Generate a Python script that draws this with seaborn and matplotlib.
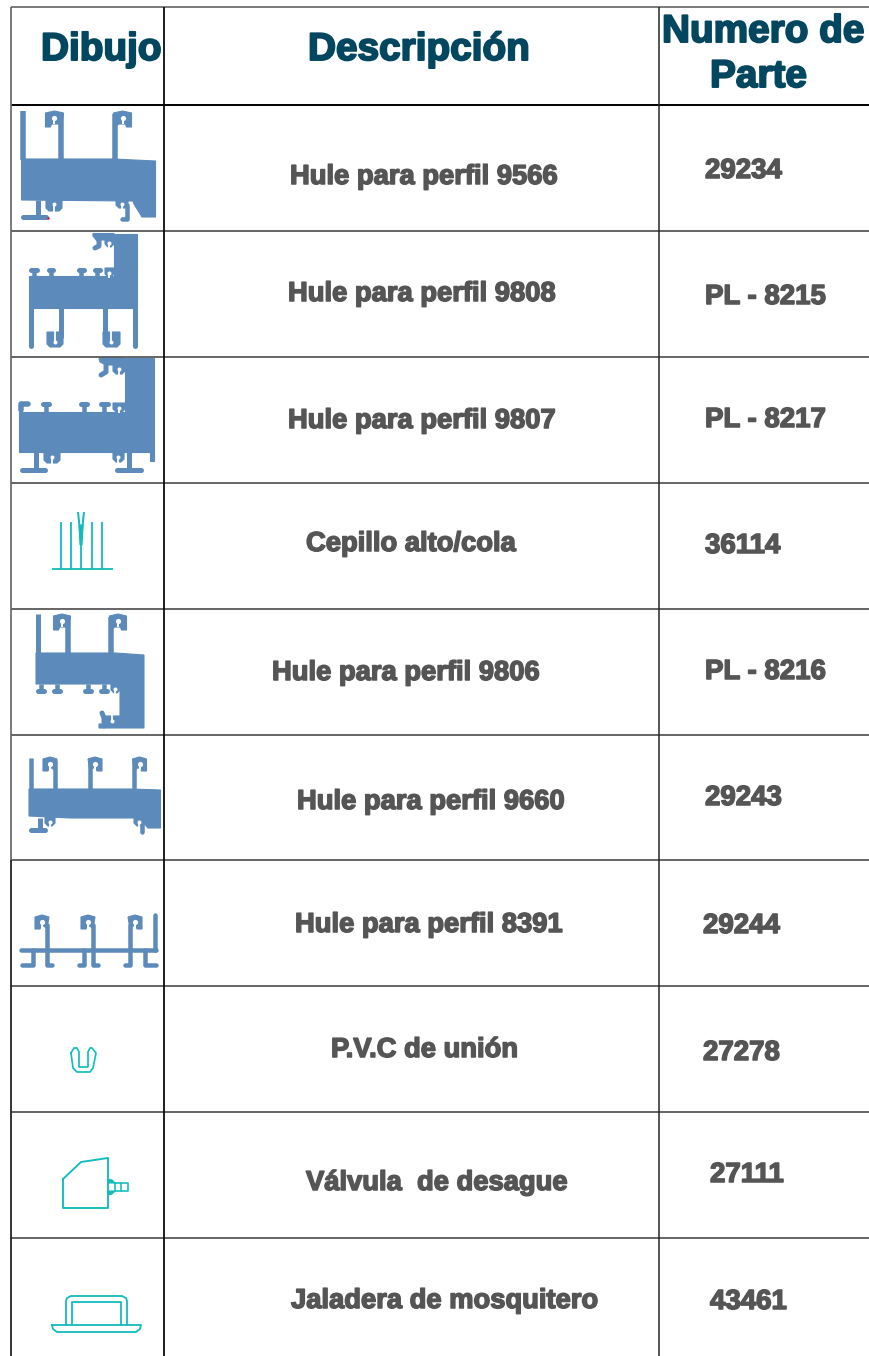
import matplotlib
matplotlib.use('Agg')
import matplotlib.pyplot as plt
import matplotlib.patheffects as pe
import seaborn as sns

headers = ['Dibujo', 'Descripción', 'Numero de', 'Parte']
descriptions = ['Hule para perfil 9566', 'Hule para perfil 9808', 'Hule para perfil 9807',
                'Cepillo alto/cola', 'Hule para perfil 9806', 'Hule para perfil 9660',
                'Hule para perfil 8391', 'P.V.C de unión', 'Válvula  de desague',
                'Jaladera de mosquitero']
part_numbers = ['29234', 'PL - 8215', 'PL - 8217', '36114', 'PL - 8216', '29243',
                '29244', '27278', '27111', '43461']

# layout, in pixels of the 870x1356 picture
header_pos = [(41, 60), (308, 60), (662, 42), (710, 87)]
desc_pos = [(290, 184), (288, 301), (288, 428), (306, 551), (272, 680),
            (297, 809), (295, 932), (331, 1057), (306, 1190), (291, 1308)]
part_pos = [(705, 178), (705, 304), (705, 427), (705, 553), (705, 679),
            (705, 805), (703, 933), (703, 1060), (710, 1182), (710, 1309)]
row_edges = [105, 231, 357, 483, 609, 735, 860, 986, 1112, 1238]

BLUE = '#5c8aba'
CYAN = '#12bcbc'
NAVY = '#02465f'
GREY = '#555555'

sns.set_theme(style='white')
plt.rcParams['font.family'] = ['Liberation Sans', 'DejaVu Sans']

fig = plt.figure(figsize=(8.7, 13.56), dpi=100)
ax = fig.add_axes([0, 0, 1, 1])


def line(pts, color=BLUE, w=4.0, cap='round', z=3):
    xs = [p[0] for p in pts]
    ys = [p[1] for p in pts]
    sns.lineplot(x=xs, y=ys, sort=False, estimator=None, color=color, linewidth=w * 0.72,
                 solid_capstyle=cap, solid_joinstyle='round', ax=ax, legend=False, zorder=z)


def poly(pts, color=BLUE, z=2):
    ax.fill([p[0] for p in pts], [p[1] for p in pts], color=color, lw=0.8, zorder=z)


def dot(x, y, r=2.2, color='white'):
    ax.scatter([x], [y], s=(2 * r * 0.72) ** 2, color=color, linewidths=0, zorder=5)


def hook(x, top, d, w=15, h=15, lw=5.5, length=None):
    # stem with a head that hangs to one side
    if length is not None:
        line([(x, top + 2), (x, top + length)], w=lw, cap='butt')
    tip = x + d * w
    poly([(x + d * -2, top + 1), (x + d * w * 0.5, top - 1), (tip + d * 2, top + 1), (tip + d * 2, top + h),
          (tip - d * 3, top + h), (tip - d * 4, top + h - 3), (x + d * 3, top + h - 3), (x, top + h)])
    mid = x + d * w * 0.52
    dot(mid, top + 6, 2.6)
    line([(mid, top + 6), (mid, top + 12)], color='white', w=2, cap='butt', z=5)


def knob(x0, x1, y0, y1):
    # small T on a profile edge
    mid = (x0 + x1) / 2
    line([(x0 + 2, y1), (x1 - 2, y1)], w=5)
    line([(mid, y0), (mid, y1)], w=4.5, cap='butt')


def clip(x0, x1, y0, y1, up=False):
    poly([(x0, y0), (x1, y0), (x1, y1 - 3), (x1 - 3, y1), (x0 + 3, y1), (x0, y1 - 3)])
    mid = (x0 + x1) / 2
    if up:
        dot(mid, y1 - 5, 2)
        line([(mid, y1 - 5), (mid, y0 - 1)], color='white', w=1.8, cap='butt', z=5)
    else:
        dot(mid, y0 + 5, 2)
        line([(mid, y0 + 5), (mid, y1 + 1)], color='white', w=1.8, cap='butt', z=5)


def tee(x, y0, y1, x0, x1):
    line([(x, y0), (x, y1)], w=5, cap='butt')
    line([(x0 + 2, y1 + 1), (x1 - 2, y1 + 1)], w=5)


# table rules
line([(11.5, 7), (870, 7)], color='#666666', w=1.7, cap='butt')
line([(11.5, 105), (870, 105)], color='#050505', w=2.0, cap='butt')
for y in row_edges[1:]:
    line([(11.5, y), (870, y)], color='#4f4f4f', w=1.7, cap='butt')
line([(11.5, 7), (11.5, 860)], color='#666666', w=1.7, cap='butt')
line([(11.5, 860), (11.5, 1356)], color='#1a1a1a', w=1.7, cap='butt')
line([(163.7, 7), (163.7, 1356)], color='#0a0a0a', w=1.8, cap='butt')
line([(659, 7), (659, 1356)], color='#222222', w=1.5, cap='butt')

# 9566
poly([(21.5, 159), (113, 159), (155.5, 161), (155.5, 217), (142, 217), (134, 204), (133, 201), (21.5, 200)])
line([(23.5, 111), (23.5, 160)], w=5.5, cap='butt')
hook(61.5, 112, -1, w=14, length=48)
hook(115.5, 112, 1, w=14, length=48)
tee(38, 200, 216, 21, 48)
clip(46, 62, 199, 211, up=False)
clip(116, 128, 199, 208)
line([(127, 205), (127, 219), (122, 219)], w=4.5)
dot(48, 218, 1.2, 'red')

# 9808
poly([(29, 276), (114, 276), (114, 233.5), (137.5, 233.5), (137.5, 308), (29, 308)])
line([(31.5, 306), (31.5, 346)], w=5)
line([(135, 306), (135, 346)], w=5)
line([(61, 306), (61, 338)], w=5, cap='butt')
line([(105.5, 306), (105.5, 338)], w=5, cap='butt')
clip(47, 63, 332, 347, up=True)
clip(103, 120, 332, 347, up=True)
knob(29, 39, 277, 270)
knob(47, 55, 277, 270)
knob(77, 86, 277, 270)
knob(93, 102, 277, 270)
clip(105, 114, 268, 277)
clip(105, 114, 238, 247)
poly([(93, 233.5), (114, 233.5), (114, 240), (100, 240), (97, 241), (93, 236)])
line([(99, 238), (99, 246), (95, 248)], w=5)

# 9807
poly([(19, 412), (125, 412), (125, 358), (154.5, 358), (154.5, 461), (150, 461), (150, 452), (19, 452)])
line([(21.5, 410), (21.5, 404), (28, 404)], w=5.5)
knob(41, 51, 412, 404)
knob(79, 89, 412, 404)
knob(99, 110, 412, 404)
clip(113, 125, 403, 412)
clip(113, 125, 364, 374)
poly([(99, 358), (125, 358), (125, 365), (106, 365), (100, 362)])
line([(106, 362), (106, 372), (101, 375)], w=5)
tee(36, 452, 469, 20, 47)
clip(44, 60, 452, 463)
tee(129, 452, 469, 115, 143)
clip(113, 124, 452, 462)

# cepillo
line([(52, 568.7), (113, 568.7)], color=CYAN, w=1.8, cap='butt')
for x in [61, 71, 92, 102]:
    line([(x, 522), (x, 569)], color=CYAN, w=1.8, cap='butt')
line([(81, 540), (81, 569)], color=CYAN, w=1.8, cap='butt')
line([(78, 512), (81, 540), (84, 512)], color=CYAN, w=2.0, cap='butt')
poly([(79, 525), (83, 525), (82, 545), (80, 545)], color=CYAN)

# 9806
poly([(36, 653), (115, 653), (144, 655), (144, 728), (99, 728), (99, 724), (120, 724), (120, 684), (36, 684)])
line([(38.2, 614), (38.2, 654)], w=5, cap='butt')
hook(68.5, 615, -1, w=13, length=40)
hook(111.5, 615, 1, w=13, length=40)
knob(36, 46, 684, 691)
knob(52, 62, 684, 691)
knob(83, 93, 684, 691)
knob(99, 109, 684, 691)
clip(111, 120, 684, 693)
clip(105, 120, 716, 726, up=True)
line([(102, 713), (104, 718), (104, 726)], w=5)

# 9660
poly([(29, 789), (130, 789), (160.5, 790), (160.5, 828), (148, 828), (142, 821), (140, 818), (70, 818), (29, 816)])
line([(31, 758), (31, 790)], w=4.5, cap='butt')
hook(55, 758, -1, w=10, h=13, lw=4.5, length=32)
hook(90, 758, 1, w=10, h=13, lw=4.5, length=32)
hook(134.5, 758, 1, w=10, h=13, lw=4.5, length=32)
tee(40, 818, 829, 29, 47)
clip(45, 55, 817, 826)
clip(134, 145, 817, 826)
line([(142, 820), (142, 832)], w=4.5)

# 8391
line([(21, 950), (156, 950)], w=4.5)
line([(155, 915), (155, 950)], w=4.5)
hook(47, 916, -1, w=10, h=13, lw=4.5)
hook(93, 916, -1, w=10, h=13, lw=4.5)
hook(130, 916, 1, w=10, h=13, lw=4.5)
line([(47, 925), (47, 965), (52, 965)], w=4.5)
line([(93, 925), (93, 965), (98, 965)], w=4.5)
line([(130, 925), (130, 965), (125, 965)], w=4.5)
line([(33, 950), (33, 965), (22, 965)], w=4.5)
line([(84, 950), (84, 965), (79, 965)], w=4.5)
line([(145, 950), (145, 965), (156, 965)], w=4.5)

# P.V.C
line([(71, 1053), (74, 1048), (77, 1048), (79, 1052), (79, 1067), (88, 1067), (88, 1052),
      (90, 1048), (92, 1048), (96, 1053), (93, 1068), (90, 1072), (77, 1072), (73, 1068), (71, 1053)],
     color=CYAN, w=1.7)

# valvula
line([(63, 1179), (81, 1162), (108, 1158), (108, 1208), (63, 1208), (63, 1179)], color=CYAN, w=1.9)
line([(115, 1183), (128, 1183), (128, 1191), (115, 1191), (115, 1183)], color=CYAN, w=1.6)
line([(121, 1183), (121, 1191)], color=CYAN, w=1.6)
poly([(108, 1179), (112, 1180), (115, 1183), (108, 1183)], color=CYAN)
poly([(108, 1191), (115, 1191), (112, 1194), (108, 1195)], color=CYAN)

# jaladera
line([(52, 1325), (141, 1325), (140, 1329), (136, 1332), (57, 1332), (53, 1329), (52, 1325)], color=CYAN, w=1.8)
line([(66, 1325), (66, 1301), (67, 1298), (71, 1296), (122, 1296), (126, 1298), (127, 1301), (127, 1325)],
     color=CYAN, w=1.8)
line([(72, 1325), (72, 1302), (121, 1302), (121, 1325)], color=CYAN, w=1.8)

# text
for label, (x, y) in zip(headers, header_pos):
    ax.text(x, y, label, color=NAVY, fontsize=27.9, fontweight='bold', zorder=6,
            path_effects=[pe.withStroke(linewidth=1.4, foreground=NAVY)])
for label, (x, y) in zip(descriptions, desc_pos):
    ax.text(x, y, label, color=GREY, fontsize=19.7, fontweight='bold', zorder=6,
            path_effects=[pe.withStroke(linewidth=1.1, foreground=GREY)])
for label, (x, y) in zip(part_numbers, part_pos):
    ax.text(x, y, label, color=GREY, fontsize=19.9, fontweight='bold', zorder=6,
            path_effects=[pe.withStroke(linewidth=1.1, foreground=GREY)])

ax.set_xlim(0, 870)
ax.set_ylim(1356, 0)
ax.axis('off')

fig.savefig('out.png', dpi=100, facecolor='white')
